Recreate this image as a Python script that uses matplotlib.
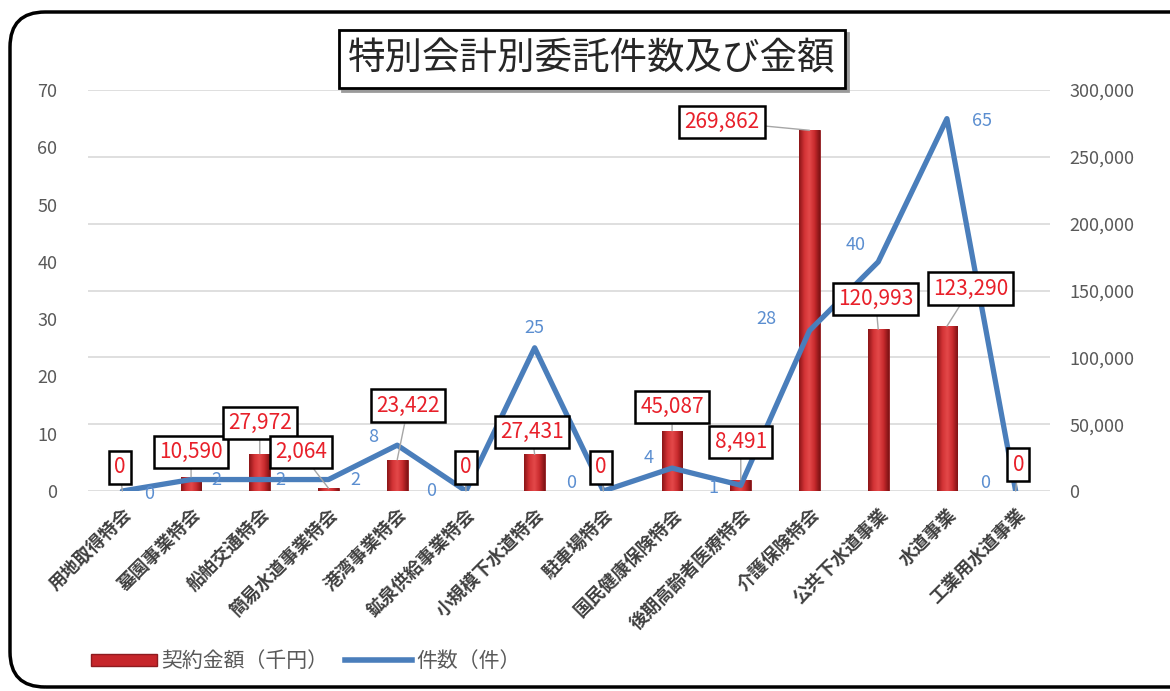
import matplotlib
matplotlib.use('Agg')
import matplotlib.pyplot as plt
from matplotlib.patches import FancyBboxPatch
from matplotlib.colors import LinearSegmentedColormap
from matplotlib.ticker import FuncFormatter, MultipleLocator
import numpy as np

plt.rcParams['font.family'] = ['Noto Sans CJK JP', 'DejaVu Sans']

# 特別会計ごとのデータ
categories = ['用地取得特会', '墓園事業特会', '船舶交通特会', '簡易水道事業特会', '港湾事業特会',
              '鉱泉供給事業特会', '小規模下水道特会', '駐車場特会', '国民健康保険特会',
              '後期高齢者医療特会', '介護保険特会', '公共下水道事業', '水道事業', '工業用水道事業']
amounts = [0, 10590, 27972, 2064, 23422, 0, 27431, 0, 45087, 8491, 269862, 120993, 123290, 0]
counts = [0, 2, 2, 2, 8, 0, 25, 0, 4, 1, 28, 40, 65, 0]

# ラベルの位置ずらし（ポイント）
amount_offsets = [(-2, 17), (0, 18), (0, 22), (-20, 26), (8, 39), (0, 17), (-2, 16), (-2, 17),
                  (0, 17), (0, 27), (-63, 6), (-2, 22), (17, 27), (2, 19)]
count_offsets = [(19, -2), (18, 0), (15, 0), (19, 0), (-17, 6), (-25, 0), (0, 14), (-23, 6),
                 (-17, 7), (-20, -2), (-31, 8), (-16, 12), (25, -2), (-22, 6)]

fig = plt.figure(figsize=(11.7, 6.91), dpi=100)

# 外枠
frame = FancyBboxPatch((10 / 1170, 4 / 691), 1.2, 675 / 691,
                       boxstyle='round,pad=0,rounding_size=0.03',
                       transform=fig.transFigure, fill=False,
                       edgecolor='black', linewidth=2.5, mutation_aspect=1170 / 691)
fig.patches.append(frame)

ax = fig.add_axes([88 / 1170, 1 - 491 / 691, 962 / 1170, 401 / 691])
ax2 = ax.twinx()
ax.set_zorder(ax2.get_zorder() + 1)
ax.patch.set_visible(False)

x = np.arange(len(categories))

# 契約金額（右軸）: 立体風のグラデーション棒
bars = ax2.bar(x, amounts, width=0.3, color='#c6262b', edgecolor='#8e1b1f', linewidth=0.6, zorder=2)
bar_cmap = LinearSegmentedColormap.from_list('bar', ['#8a1517', '#d23235', '#e4494a', '#c82a2d', '#7e1214'])
grad = np.linspace(0, 1, 64).reshape(1, -1)
for b in bars:
    if b.get_height() <= 0:
        continue
    bx, bw, bh = b.get_x(), b.get_width(), b.get_height()
    im = ax2.imshow(grad, cmap=bar_cmap, aspect='auto', extent=(bx, bx + bw, 0, bh),
                    zorder=2.1, interpolation='bicubic')
    im.set_clip_path(b)
ax2.set_ylim(0, 300000)
ax2.yaxis.set_major_locator(MultipleLocator(50000))
ax2.yaxis.set_major_formatter(FuncFormatter(lambda v, p: f'{int(v):,}'))

# 件数（左軸）
ax.plot(x, counts, color='#4a7ebb', linewidth=3.8, solid_joinstyle='round',
        solid_capstyle='round', zorder=3)
ax.set_ylim(0, 70)
ax.yaxis.set_major_locator(MultipleLocator(10))
ax.set_xlim(-0.5, len(categories) - 0.5)
ax2.set_xlim(-0.5, len(categories) - 0.5)

ax2.grid(axis='y', color='#d9d9d9', linewidth=1.2)
ax2.set_axisbelow(True)
for a in (ax, ax2):
    for s in a.spines.values():
        s.set_visible(False)
    a.tick_params(length=0, labelsize=13, colors='#595959')
ax.tick_params(axis='y', pad=22)
ax2.tick_params(axis='y', pad=14)

ax.set_xticks(x)
ax.set_xticklabels(categories, rotation=45, ha='right', rotation_mode='anchor',
                   fontsize=13, fontweight='bold', color='#404040')
ax.tick_params(axis='x', pad=10)

# 金額ラベル（折れ線より手前に描く）
for xi, v, off in zip(x, amounts, amount_offsets):
    ax.annotate(f'{v:,}', (xi, v), xycoords=ax2.transData, xytext=off,
                textcoords='offset points', ha='center', va='center',
                fontsize=15, color='#e8202a',
                bbox=dict(boxstyle='square,pad=0.25', fc='white', ec='black', lw=1.8),
                arrowprops=dict(arrowstyle='-', color='#a6a6a6', lw=1, shrinkA=0, shrinkB=0),
                zorder=6)

# 件数ラベル
for xi, v, off in zip(x, counts, count_offsets):
    ax.annotate(f'{v}', (xi, v), xytext=off, textcoords='offset points',
                ha='center', va='center', fontsize=13, color='#5b8ed0', zorder=7)

# タイトル
fig.text(595 / 1170, 1 - 62 / 691, '特別会計別委託件数及び金額', ha='center', va='center',
         fontsize=27, color='#595959', alpha=0,
         bbox=dict(boxstyle='square,pad=0.25', fc='#9a9a9a', ec='#9a9a9a', lw=2))
fig.text(592 / 1170, 1 - 59 / 691, '特別会計別委託件数及び金額', ha='center', va='center',
         fontsize=27, color='#262626',
         bbox=dict(boxstyle='square,pad=0.25', fc='white', ec='black', lw=2))

# 凡例
handles = [plt.Rectangle((0, 0), 1, 1, fc='#c6262b', ec='#8e1b1f'),
           plt.Line2D([], [], color='#4a7ebb', linewidth=4)]
fig.legend(handles, ['契約金額（千円）', '件数（件）'], loc='center left',
           bbox_to_anchor=(72 / 1170, 1 - 661 / 691), ncol=2, frameon=False,
           fontsize=15, labelcolor='#595959', handlelength=3.2, handleheight=0.5,
           handletextpad=0.2, columnspacing=0.8)

fig.savefig('out.png', dpi=100)
